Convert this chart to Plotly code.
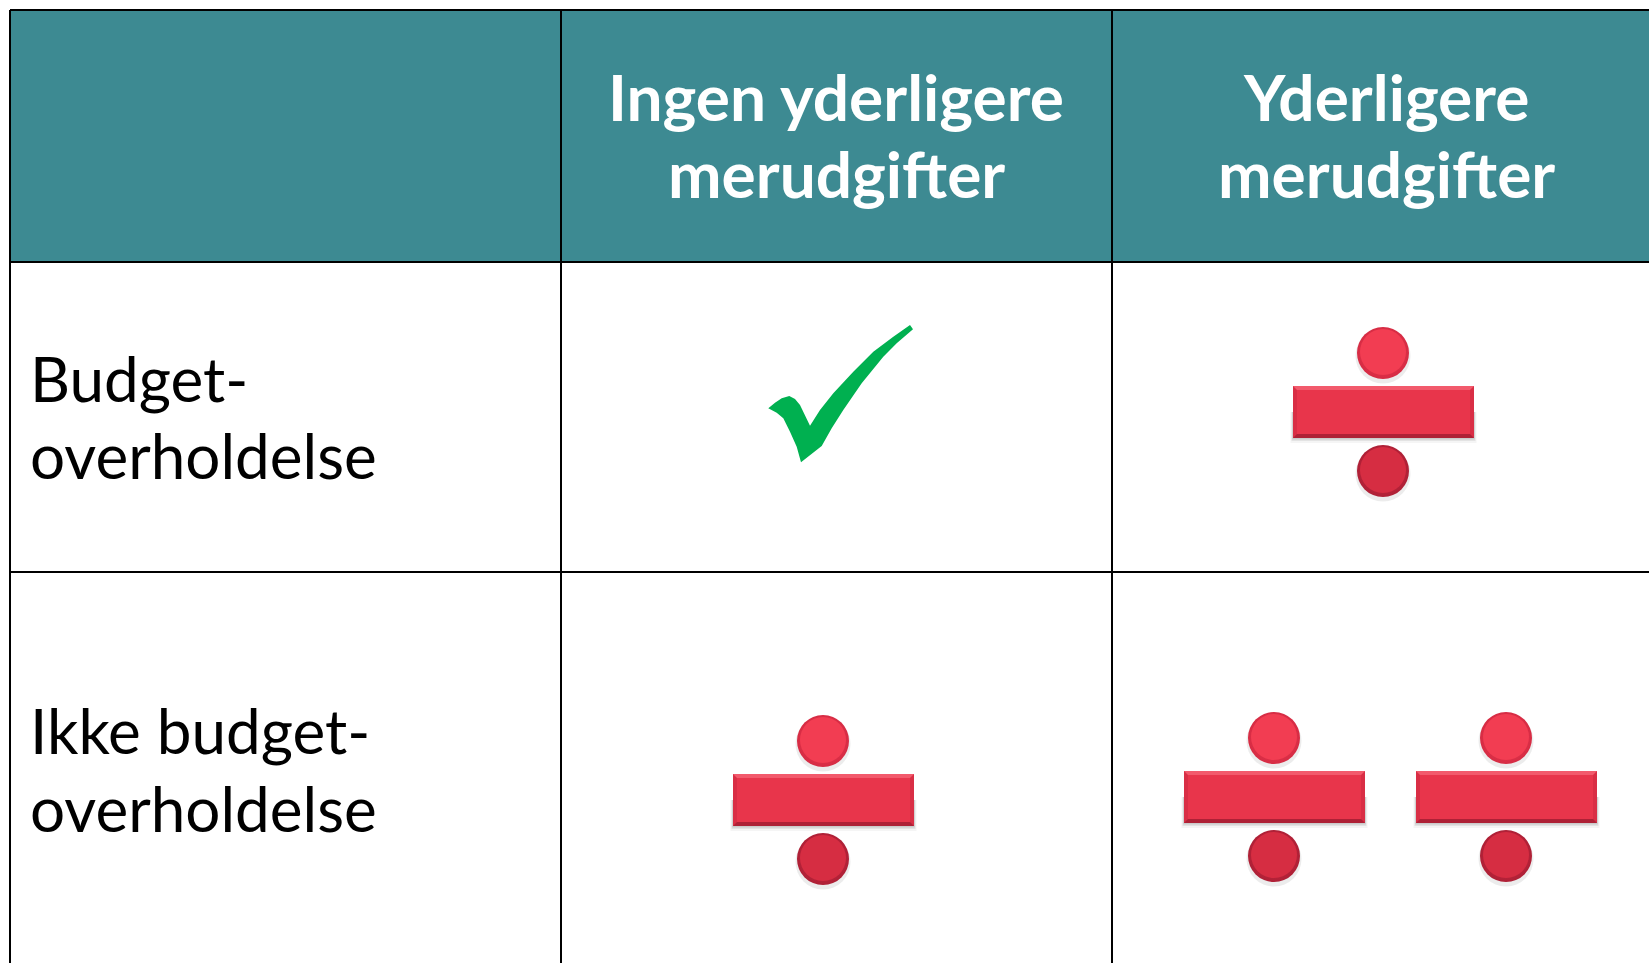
import plotly.graph_objects as go

W, H = 1649, 963

# Table content
column_headers = [["Ingen yderligere", "merudgifter"], ["Yderligere", "merudgifter"]]
column_centers = [836, 1386]
row_labels = [["Budget-", "overholdelse"], ["Ikke budget-", "overholdelse"]]
row_line_y = [[378, 455], [730, 808]]
header_line_y = [96, 173]
label_x = 28

# Grid
v_lines = [10, 561, 1112]
h_lines = [10, 262, 572]

# Divide-sign symbols: (center x, center y)
divide_x = [1383, 823, 1274, 1506]
divide_y = [412, 800, 797, 797]

# Check mark outline
check_x = [910, 913, 896.7, 883.3, 861.7, 843.3, 831.7, 821.7, 801, 796.7, 790, 783.3, 776.7, 768.3,
           775, 781.7, 789.3, 795, 800, 805, 810, 820, 833.3, 853.3, 873.3, 893.3]
check_y = [325, 329.3, 343.3, 356.7, 383.3, 410, 428.3, 446, 462.3, 446.7, 431.7, 418.3, 412.7, 408.3,
           402.7, 398.3, 396, 399, 405, 415, 425.7, 410, 393.3, 371.7, 351.7, 336.7]

TEAL = "#3D8A92"
RED = "#E8354B"
FONT = "Lato"

fig = go.Figure()


def poly(xs, ys, color):
    fig.add_trace(go.Scatter(x=xs, y=ys, mode="lines", fill="toself", fillcolor=color,
                             line=dict(width=0), hoverinfo="skip", showlegend=False))


def rect(x0, y0, x1, y1, color):
    poly([x0, x1, x1, x0, x0], [y0, y0, y1, y1, y0], color)


# Header band
rect(v_lines[0], h_lines[0], W, h_lines[1], TEAL)

# Divide signs
for cx, cy in zip(divide_x, divide_y):
    L, R, T, B = cx - 90, cx + 91, cy - 26, cy + 26
    # soft shadow, mostly below the bar
    for grow, alpha in [(5, 0.05), (3, 0.09), (1.5, 0.14)]:
        rect(L - grow / 2, cy, R + grow / 2, B + grow, f"rgba(60,60,60,{alpha})")
    # beveled bar: four edge strips around a flat face
    rect(L, T, R, B, "#D92E45")
    poly([L, R, R - 4, L + 4, L], [T, T, T + 4, T + 4, T], "#F25A6C")
    poly([L, R, R - 4, L + 4, L], [B, B, B - 4, B - 4, B], "#AE2136")
    rect(L + 4, T + 4, R - 4, B - 4, RED)
    # circles
    for dy, c_center, c_rim in [(-59, "#F23D52", "#D62C44"), (59, "#D62D42", "#AE2036")]:
        fig.add_trace(go.Scatter(x=[cx], y=[cy + dy + 3], mode="markers",
                                 marker=dict(size=55, color="rgba(70,70,70,0.10)", line=dict(width=0)),
                                 hoverinfo="skip", showlegend=False))
        fig.add_trace(go.Scatter(x=[cx], y=[cy + dy], mode="markers",
                                 marker=dict(size=52, color=c_rim, line=dict(width=0),
                                             gradient=dict(type="radial", color=c_center)),
                                 hoverinfo="skip", showlegend=False))
        fig.add_trace(go.Scatter(x=[cx], y=[cy + dy - 1], mode="markers",
                                 marker=dict(size=46, color=c_center, line=dict(width=0)),
                                 hoverinfo="skip", showlegend=False))

# Check mark
poly(check_x + check_x[:1], check_y + check_y[:1], "#00B050")

# Grid lines
for x in v_lines:
    fig.add_trace(go.Scatter(x=[x, x], y=[h_lines[0], H], mode="lines",
                             line=dict(color="#000000", width=2), hoverinfo="skip", showlegend=False))
for y in h_lines:
    fig.add_trace(go.Scatter(x=[v_lines[0], W], y=[y, y], mode="lines",
                             line=dict(color="#000000", width=2), hoverinfo="skip", showlegend=False))

# Text
annotations = []
for lines, cx in zip(column_headers, column_centers):
    for txt, y in zip(lines, header_line_y):
        annotations.append(dict(x=cx, y=y, text=f"<b>{txt}</b>", showarrow=False, xanchor="center", yanchor="middle",
                                font=dict(family=FONT, size=64, color="white")))
for lines, ys in zip(row_labels, row_line_y):
    for txt, y in zip(lines, ys):
        annotations.append(dict(x=label_x, y=y, text=txt, showarrow=False, xanchor="left", yanchor="middle",
                                font=dict(family=FONT, size=62, color="black")))

fig.update_layout(
    width=W, height=H, margin=dict(l=0, r=0, t=0, b=0),
    paper_bgcolor="white", plot_bgcolor="white", showlegend=False,
    xaxis=dict(range=[0, W], visible=False, fixedrange=True),
    yaxis=dict(range=[H, 0], visible=False, fixedrange=True),
    annotations=annotations,
)
fig.write_html("out.html", config=dict(displayModeBar=False),
               post_script="document.body.style.margin='0';document.documentElement.style.overflow='hidden';")
